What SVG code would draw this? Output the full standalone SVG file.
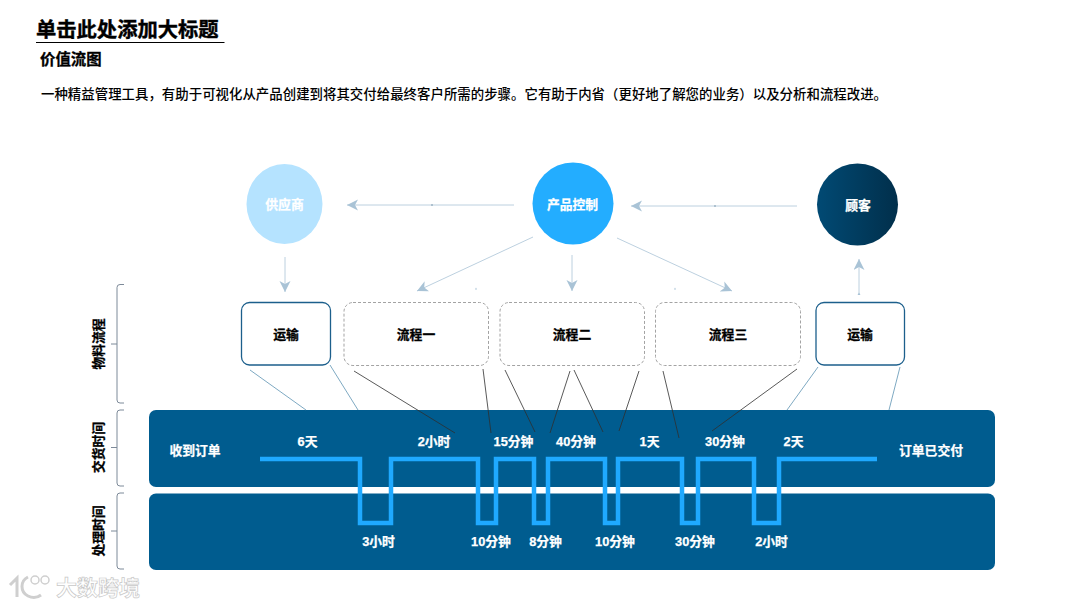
<svg xmlns="http://www.w3.org/2000/svg" width="1080" height="608" viewBox="0 0 1080 608">
<style>
text{font-family:"Liberation Sans","Noto Sans CJK SC",sans-serif;font-weight:700;text-anchor:middle}
.t{font-size:12.800px;fill:#fff;stroke:#fff;stroke-width:.25}
.k{font-size:12.800px;fill:#000;stroke:#000;stroke-width:.3}
.side{font-size:12.800px;fill:#000;stroke:#000;stroke-width:.3}
.solid{fill:#fff;stroke:#1c5f8c;stroke-width:1.300}
.dash{fill:#fff;stroke:#a3a3a3;stroke-width:1;stroke-dasharray:3 2}
.flow{fill:none;stroke:#b4cbdb;stroke-width:.9;marker-end:url(#arr)}
.bl{stroke:#5d93b3;stroke-width:.8;fill:none}
.dk{stroke:#2f2f2f;stroke-width:.8;fill:none}
.br{fill:none;stroke:#7d8a99;stroke-width:1}
.wm{fill:#fff;stroke:#c8c8c8;stroke-width:.7}
</style>
<defs>
<marker id="arr" markerUnits="userSpaceOnUse" markerWidth="12" markerHeight="12" refX="11" refY="5.500" orient="auto"><path d="M0,0 L11,5.500 L0,11 L3,5.500 Z" fill="#a9c3d6"/></marker>
<linearGradient id="cust" x1="0" x2="1" y1="0" y2="0"><stop offset="0" stop-color="#014a74"/><stop offset="1" stop-color="#012f4b"/></linearGradient>
</defs>
<rect width="1080" height="608" fill="#fff"/>
<g id="header">
<text x="36" y="36.500" stroke="#000" stroke-width=".4" style="font-size:20.300px;text-anchor:start;font-family:'Noto Sans CJK SC',sans-serif">单击此处添加大标题</text>
<line x1="36" y1="42.500" x2="224.500" y2="42.500" stroke="#000" stroke-width="1"/>
<text x="40" y="64.500" stroke="#000" stroke-width=".3" style="font-size:15.400px;text-anchor:start;font-family:'Noto Sans CJK SC',sans-serif">价值流图</text>
<text x="41" y="99" textLength="846" style="font-size:13.400px;font-weight:500;text-anchor:start;font-family:'Noto Sans CJK SC',sans-serif">一种精益管理工具，有助于可视化从产品创建到将其交付给最终客户所需的步骤。它有助于内省（更好地了解您的业务）以及分析和流程改进。</text>
</g>
<g id="bar-delivery"><rect x="149" y="410" width="846" height="77" rx="7" fill="#005c8f"/></g>
<g id="bar-processing"><rect x="149" y="493.500" width="846" height="76.500" rx="7" fill="#005c8f"/></g>
<g id="connectors">
<path class="flow" d="M514,205H347"/>
<path class="flow" d="M797,206H631"/>
<path class="flow" d="M285,257V292"/>
<path class="flow" d="M533,237L417,291"/>
<path class="flow" d="M572,255V291"/>
<path class="flow" d="M617,238L732,291"/>
<path class="flow" d="M859,295V259"/>
<path d="M476,287.500l1,2h-2zM675,287.500l1,2h-2zM859,292.500l1.500,2.500h-3z" fill="#a9c3d6"/>
<path d="M432,204v2M715,205v2" stroke="#7f9bb0" stroke-width="1"/>
<path class="bl" d="M250,370L306,410M330,365L358,410M818,367L787,410M900,367L889,410"/>
<path class="dk" d="M354,371L455,433M483,369L491,433M505,370L535,432M570,371L550,433M574,370L603,432M639,371L619,431M663,371L679,438M797,369L712,431"/>
<path d="M260,459H360V523H391V459H478V523H496V459H534V523H548V459H605V523H618V459H682V523H698V459H754V523H779V459H877" fill="none" stroke="#1fa9ff" stroke-width="4.500"/>
<path class="br" d="M124,284.500H120Q117,284.500 117,287.500V400Q117,403 120,403H124M111,344H117"/>
<path class="br" d="M124,410H120Q117,410 117,413V483Q117,486 120,486H124M111,447.500H117"/>
<path class="br" d="M124,493H120Q117,493 117,496V566Q117,569 120,569H124M111,531H117"/>
</g>
<g id="node-supplier"><ellipse cx="284.500" cy="204" rx="38" ry="40" fill="#b5e3ff"/><text class="t" x="284.500" y="208.500">供应商</text></g>
<g id="node-control"><ellipse cx="573" cy="203.500" rx="40.500" ry="41" fill="#23adff"/><text class="t" x="572.500" y="208.500">产品控制</text></g>
<g id="node-customer"><ellipse cx="857.500" cy="204.500" rx="40.500" ry="41" fill="url(#cust)"/><text class="t" x="858" y="209.500">顾客</text></g>
<g id="node-transport-1"><rect class="solid" x="241.500" y="302.500" width="89" height="62.500" rx="8"/><text class="k" x="286" y="338.500">运输</text></g>
<g id="node-process-1"><rect class="dash" x="344" y="302.500" width="144.500" height="63" rx="9"/><text class="k" x="416" y="338.500">流程一</text></g>
<g id="node-process-2"><rect class="dash" x="500" y="302.500" width="144.500" height="63" rx="9"/><text class="k" x="572" y="338.500">流程二</text></g>
<g id="node-process-3"><rect class="dash" x="655.500" y="302.500" width="145" height="63" rx="9"/><text class="k" x="728" y="338.500">流程三</text></g>
<g id="node-transport-2"><rect class="solid" x="816" y="302.500" width="88.500" height="62.500" rx="8"/><text class="k" x="860" y="338.500">运输</text></g>
<g id="labels">
<text class="side" transform="translate(102.500,344) rotate(-90)">物料流程</text>
<text class="side" transform="translate(102.500,447.500) rotate(-90)">交货时间</text>
<text class="side" transform="translate(102.500,531) rotate(-90)">处理时间</text>
<text class="t" x="195" y="454.500">收到订单</text>
<text class="t" x="931" y="454.500">订单已交付</text>
<text class="t" x="307.500" y="445.500">6天</text>
<text class="t" x="434" y="445.500">2小时</text>
<text class="t" x="513.500" y="445.500">15分钟</text>
<text class="t" x="576" y="445.500">40分钟</text>
<text class="t" x="649.500" y="445.500">1天</text>
<text class="t" x="725" y="445.500">30分钟</text>
<text class="t" x="793.500" y="445.500">2天</text>
<text class="t" x="378.500" y="546">3小时</text>
<text class="t" x="491" y="546">10分钟</text>
<text class="t" x="545.500" y="546">8分钟</text>
<text class="t" x="615" y="546">10分钟</text>
<text class="t" x="695" y="546">30分钟</text>
<text class="t" x="771.500" y="546">2小时</text>
</g>
<g id="watermark">
<path d="M10,585L17,578V597" fill="none" stroke="#cfcfcf" stroke-width="3"/>
<path d="M28,577C20,581 20,592 28,596C32,598 37,598 41,595" fill="none" stroke="#cfcfcf" stroke-width="3"/>
<circle cx="35" cy="580" r="4" fill="#fff" stroke="#cfcfcf" stroke-width="1.500"/>
<circle cx="45" cy="580" r="4" fill="#fff" stroke="#cfcfcf" stroke-width="1.500"/>
<text class="wm" x="98" y="595" style="font-size:21px;font-family:'Noto Sans CJK SC',sans-serif">大数跨境</text>
</g>
</svg>
